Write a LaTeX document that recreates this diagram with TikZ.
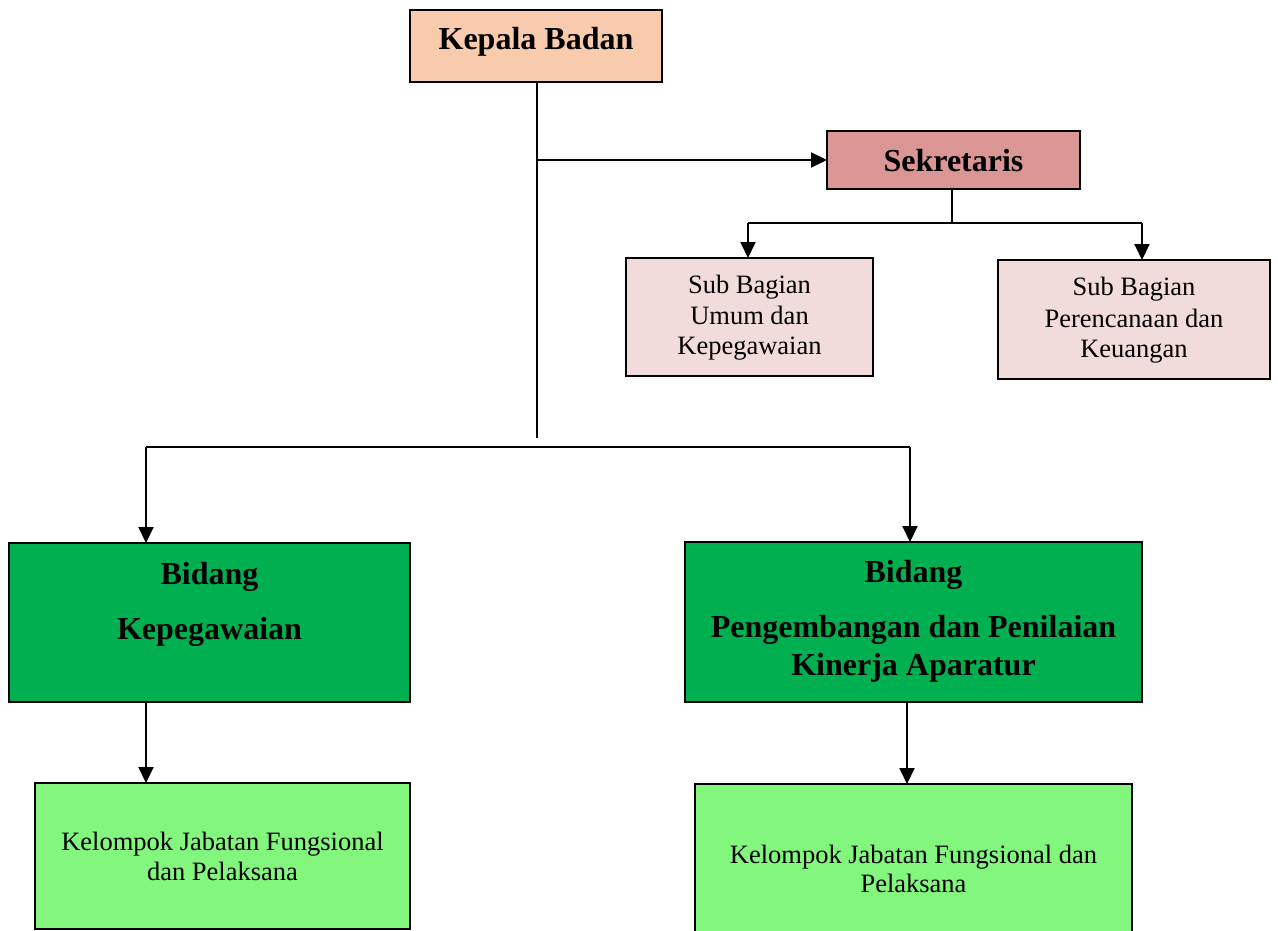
\documentclass[tikz,border=0pt]{standalone}
\usepackage{fontspec}
\setmainfont{Liberation Serif}
\usetikzlibrary{arrows.meta}
\definecolor{peach}{HTML}{F8CBAD}
\definecolor{sekc}{HTML}{D99694}
\definecolor{subc}{HTML}{F2DCDB}
\definecolor{bidc}{HTML}{00B050}
\definecolor{kelc}{HTML}{83F67E}
\tikzset{
  box/.style={draw=black, line width=2pt, rectangle, inner sep=0pt, outer sep=0pt},
  conn/.style={draw=black, line width=2pt},
  arr/.style={conn, -{Triangle[length=16pt,width=15pt]}},
  bigtxt/.style={anchor=base, inner sep=0pt, font=\fontsize{32}{37}\selectfont\bfseries},
  smalltxt/.style={anchor=base, inner sep=0pt, font=\fontsize{26.5}{31}\selectfont},
}
\begin{document}
\begin{tikzpicture}[x=1pt,y=-1pt]
\clip (0,0) rectangle (1278,931);
\fill[white] (0,0) rectangle (1278,931);

% boxes
\node[box, fill=peach, minimum width=252pt, minimum height=72pt] (kb) at (536,46) {};
\node[box, fill=sekc, minimum width=253pt, minimum height=58pt] (sek) at (953.5,160) {};
\node[box, fill=subc, minimum width=247pt, minimum height=118pt] (sb1) at (749.5,317) {};
\node[box, fill=subc, minimum width=272pt, minimum height=119pt] (sb2) at (1134,319.5) {};
\node[box, fill=bidc, minimum width=401pt, minimum height=159pt] (bd1) at (209.5,622.5) {};
\node[box, fill=bidc, minimum width=457pt, minimum height=160pt] (bd2) at (913.5,622) {};
\node[box, fill=kelc, minimum width=375pt, minimum height=146pt] (kl1) at (222.5,856) {};
\node[box, fill=kelc, minimum width=437pt, minimum height=176pt] (kl2) at (913.5,872) {};

% texts
\node[bigtxt] (tkb) at (536,50) {Kepala Badan};
\node[bigtxt] (tsek) at (953.5,172) {Sekretaris};
\node[smalltxt] (tsb1a) at (749.5,293) {Sub Bagian};
\node[smalltxt] (tsb1b) at (749.5,324) {Umum dan};
\node[smalltxt] (tsb1c) at (749.5,354) {Kepegawaian};
\node[smalltxt] (tsb2a) at (1134,295) {Sub Bagian};
\node[smalltxt] (tsb2b) at (1134,327) {Perencanaan dan};
\node[smalltxt] (tsb2c) at (1134,357) {Keuangan};
\node[bigtxt] (tbd1a) at (209.5,584) {Bidang};
\node[bigtxt] (tbd1b) at (209.5,639) {Kepegawaian};
\node[bigtxt] (tbd2a) at (913.5,582) {Bidang};
\node[bigtxt] (tbd2b) at (913.5,637) {Pengembangan dan Penilaian};
\node[bigtxt] (tbd2c) at (913.5,675) {Kinerja Aparatur};
\node[smalltxt] (tkl1a) at (222.5,850) {Kelompok Jabatan Fungsional};
\node[smalltxt] (tkl1b) at (222.5,880) {dan Pelaksana};
\node[smalltxt] (tkl2a) at (913.5,863) {Kelompok Jabatan Fungsional dan};
\node[smalltxt] (tkl2b) at (913.5,892) {Pelaksana};

% junction coordinates
\coordinate (jmain) at (537,438);
\coordinate (jsek) at (537,160);
\coordinate (sh1) at (748,223);
\coordinate (sh2) at (1142,223);
\coordinate (bh1) at (146,447);
\coordinate (bh2) at (910,447);
\coordinate (b2x) at (907,447);

% connectors
\draw[conn] (kb.south -| jmain) -- (jmain);
\draw[arr] (jsek) -- (sek.west);
\draw[conn] (sek.south -| 952,0) -- (952,223);
\draw[conn] (sh1) -- (sh2);
\draw[arr] (sh1) -- (sh1 |- sb1.north);
\draw[arr] (sh2) -- (sh2 |- sb2.north);
\draw[conn] (bh1) -- (bh2);
\draw[arr] (bh1) -- (bh1 |- bd1.north);
\draw[arr] (bh2) -- (bh2 |- bd2.north);
\draw[arr] (bd1.south -| bh1) -- (kl1.north -| bh1);
\draw[arr] (bd2.south -| b2x) -- (kl2.north -| b2x);
\end{tikzpicture}
\end{document}
